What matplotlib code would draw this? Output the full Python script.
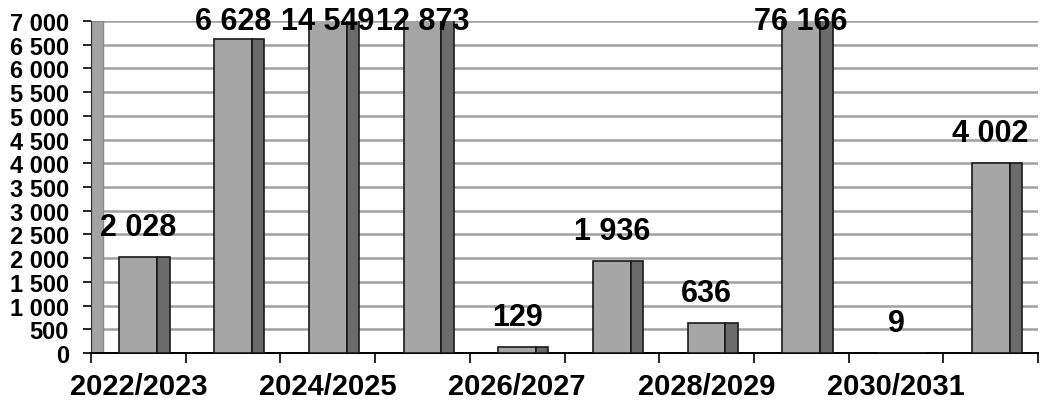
import matplotlib.pyplot as plt
import numpy as np

plt.rcParams['font.family'] = ['Liberation Sans', 'DejaVu Sans']
plt.rcParams['font.weight'] = 'bold'

seasons = ['2022/2023', '2023/2024', '2024/2025', '2025/2026', '2026/2027',
           '2027/2028', '2028/2029', '2029/2030', '2030/2031', '2031/2032']
values = [2028, 6628, 14549, 12873, 129, 1936, 636, 76166, 9, 4002]
y_ticks = list(range(0, 7001, 500))

ymax = 7000
front_w = 0.40
side_w = 0.13

fig = plt.figure(figsize=(10.4, 4.06), dpi=100)
ax = fig.add_axes([91/1040, 52/406, 947/1040, 332/406])

x = np.arange(len(seasons))
# front face and darker side face give the bars a bit of depth
ax.bar(x, values, width=front_w, color='#a6a6a6', edgecolor='#1a1a1a',
       linewidth=1.2, zorder=3)
ax.bar(x + front_w/2 + side_w/2, values, width=side_w, color='#6b6b6b',
       edgecolor='#1a1a1a', linewidth=1.2, zorder=3)

# value labels, kept inside the plot area for the tall bars
for xi, v in zip(x, values):
    yl = min(v + 630, ymax)
    ax.text(xi, yl, f'{v:,}'.replace(',', ' '), ha='center', va='center',
            fontsize=22, fontweight='bold', zorder=5)

# side wall on the left
ax.axvspan(-0.5, -0.5 + 12/94.6, facecolor='#a3a3a3', edgecolor='#8a8a8a',
           lw=1.0, zorder=2)

ax.set_xlim(-0.5, len(seasons) - 0.5)
ax.set_ylim(0, ymax)

ax.set_yticks(y_ticks, [f'{t:,}'.replace(',', ' ') for t in y_ticks])
ax.yaxis.grid(True, color='#a0a0a0', linewidth=1.8, zorder=0)
ax.set_axisbelow(True)

ax.set_xticks(np.arange(-0.5, len(seasons), 1.0), [''] * (len(seasons) + 1))
ax.set_xticks(x[::2], seasons[::2], minor=True)
ax.tick_params(axis='x', which='major', direction='out', length=7, width=1.2)
ax.tick_params(axis='x', which='minor', length=0, pad=14, labelsize=21)
ax.tick_params(axis='y', direction='out', length=6, width=1.2, pad=10,
               labelsize=17)
for lab in ax.get_xticklabels(minor=True) + ax.get_yticklabels():
    lab.set_fontweight('bold')

ax.spines[['right', 'top']].set_visible(False)
ax.spines['left'].set_color('#333333')
ax.spines['bottom'].set_linewidth(1.4)

fig.savefig('out.png', dpi=100)
